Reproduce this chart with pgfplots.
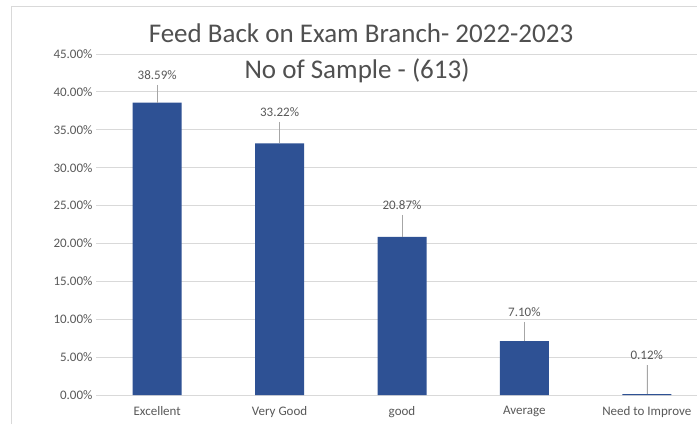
\documentclass[border=0pt]{standalone}
\usepackage{fontspec}
\setmainfont{Carlito}
\usepackage{pgfplots}
\usepackage{pgfplotstable}
\pgfplotsset{compat=1.18}
\definecolor{barblue}{RGB}{46,81,148}
\definecolor{gridgray}{RGB}{217,217,217}
\definecolor{txtgray}{RGB}{89,89,89}
\definecolor{titlegray}{RGB}{80,80,80}
\pgfplotstableread{
x y ly ey
0 38.59 42.23 2.34
1 33.22 37.35 2.83
2 20.87 25.07 2.90
3 7.10 10.95 2.55
4 0.12 5.28 3.86
}\data
\begin{document}
\begin{tikzpicture}[x=1pt,y=1pt]
\useasboundingbox (0,0) rectangle (697,424);
\fill[white] (0,0) rectangle (697,424);
\draw[gridgray, line width=1pt] (11,0) -- (11,417) -- (697,417);
\begin{axis}[
 at={(96pt,29pt)}, anchor=south west,
 scale only axis, width=612pt, height=341pt,
 xmin=-0.5, xmax=4.5, ymin=0, ymax=45,
 ytick={0,5,...,45},
 yticklabel={\pgfmathprintnumber[fixed,fixed zerofill,precision=2]{\tick}\%},
 xtick={0,1,2,3,4},
 xticklabels={Excellent, Very Good, good, Average, Need to Improve},
 xticklabel style={yshift=-8pt},
 ymajorgrids, grid style={gridgray, line width=0.8pt},
 axis line style={draw=none},
 major tick length=0pt,
 tick label style={font=\fontsize{13}{15}\selectfont, text=txtgray},
 /pgf/number format/assume math mode=true,
]
\addplot[ybar, bar width=49pt, fill=barblue, draw=none,
  error bars/.cd, y dir=plus, y explicit, error mark=none,
  error bar style={gray!70, line width=0.6pt}]
  table[x=x, y=y, y error=ey] {\data};
\addplot[draw=none, no markers,
  nodes near coords={\pgfmathprintnumber[fixed,fixed zerofill,precision=2]{\pgfplotspointmeta}\%},
  point meta=explicit,
  every node near coord/.style={anchor=center, font=\fontsize{13}{15}\selectfont, text=txtgray}]
  table[x=x, y=ly, meta=y] {\data};
\end{axis}
\node[anchor=base, font=\fontsize{27}{30}\selectfont, text=titlegray] at (361,381) {Feed Back on Exam Branch- 2022-2023};
\node[anchor=base, font=\fontsize{27}{30}\selectfont, text=titlegray] at (357,345) {No of Sample - (613)};
\end{tikzpicture}
\end{document}
